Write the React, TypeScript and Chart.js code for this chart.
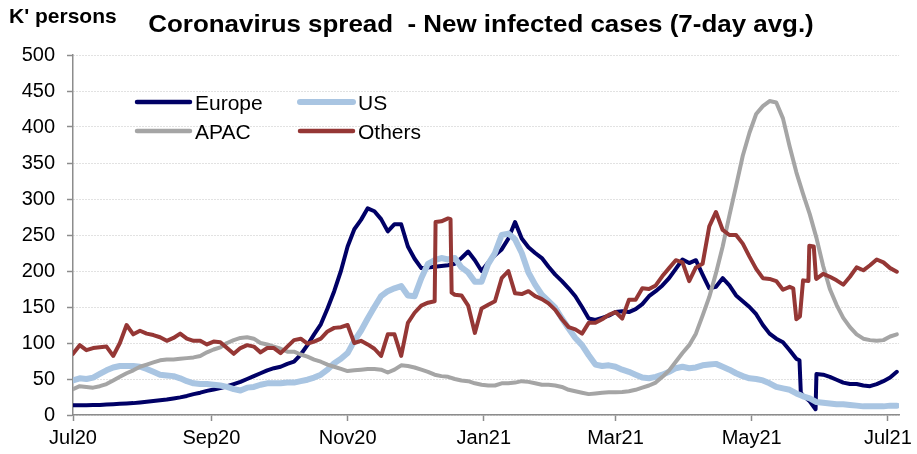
import React, { useEffect, useRef } from 'react';
import { Chart, registerables } from 'chart.js';

Chart.register(...registerables);

// Day offsets (since 1 Jul 2020) of the month ticks
const TICK_DAYS = [0, 62, 123, 184, 243, 304, 365];
const TICK_LABELS = ['Jul20', 'Sep20', 'Nov20', 'Jan21', 'Mar21', 'May21', 'Jul21'];

const SERIES_NAMES = ['Europe', 'US', 'APAC', 'Others'];

// 7-day avg new cases, K persons, one reading every 3 days from 1 Jul 2020
const EUROPE = [
  13.5, 13.5, 13.7, 14, 14, 14.5, 15, 15.5, 16, 16.5,
  17.5, 18.5, 19.5, 20.5, 21.5, 23, 24.5, 26.5, 29, 31,
  33.5, 35.5, 37.5, 40, 43, 46, 50, 54, 58, 62,
  65, 67, 71, 74, 84, 97, 112, 126, 148, 172,
  200, 234, 258, 271, 287, 283, 272, 255, 265, 265,
  234, 217, 204, 205, 206, 207, 208, 210, 218, 227,
  215, 200, 212, 222, 230, 245, 268, 245, 233, 225,
  218, 206, 195, 186, 176, 165, 150, 134, 132, 135,
  138, 143, 144, 143, 147, 154, 165, 172, 180, 190,
  203, 216, 211, 215, 195, 176, 178, 190, 180, 166,
  158, 150, 140, 125, 113, 106, 101, 90, 78, 27,
  19, 57, 56, 53, 49, 45, 43, 43, 41, 40,
  43, 47, 52, 60,
];
// extra readings around the sharp break in mid-May 2021
const EUROPE_EXTRA_DAYS = [325.4, 326, 332.6];
const EUROPE_EXTRA = [76, 31, 8];

const US = [
  48, 51, 50, 52, 57, 62, 66, 68, 68, 68,
  67, 64, 60, 56, 55, 54, 51, 47, 44, 43,
  43, 42, 41, 39, 36, 34, 38, 39, 42, 44,
  44, 44, 45, 45, 47, 49, 52, 56, 63, 72,
  78, 86, 103, 117, 134, 150, 165, 172, 176, 179,
  166, 165, 190, 210, 215, 218, 216, 218, 205, 198,
  185, 185, 210, 225, 250, 252, 244, 225, 198, 181,
  167, 158, 149, 134, 120, 107, 97, 83, 70, 68,
  69, 67, 63, 60, 56, 52, 51, 53, 56, 60,
  65, 67, 65, 66, 69, 70, 71, 67, 63, 58,
  54, 51, 50, 48, 44, 39, 37, 35, 30, 26,
  23, 18, 17, 16, 15, 15, 14, 13, 12, 12,
  12, 12, 13, 13,
];

const APAC = [
  36, 40, 39, 38, 40, 43, 48, 53, 58, 62,
  67, 70, 73, 76, 77, 77, 78, 79, 80, 82,
  87, 91, 94, 100, 104, 107, 108, 106, 100, 98,
  95, 92, 88, 88, 84, 81, 77, 74, 70, 67,
  64, 61, 62, 63, 64, 64, 63, 59, 63, 69,
  68, 66, 63, 60, 56, 54, 53, 50, 48, 47,
  44, 42, 41, 41, 44, 44, 45, 47, 46, 44,
  42, 42, 41, 39, 35, 33, 31, 29, 30, 31,
  31.5, 31.5, 32, 33, 35, 38, 41, 45, 53, 62,
  74, 86, 97, 113, 138, 164, 197, 234, 277, 318,
  360, 392, 418, 429, 436, 434, 412, 373, 337, 307,
  279, 246, 207, 175, 153, 135, 122, 112, 106, 104,
  103, 104, 109, 112,
];

const OTHERS = [
  85, 97, 90, 93, 94, 95, 82, 100, 125, 112,
  117, 113, 111, 108, 103, 107, 113, 106, 103, 103,
  98, 102, 101, 93, 85, 93, 97, 95, 87, 93,
  93, 86, 95, 104, 106, 99, 102, 106, 116, 121,
  122, 125, 100, 103, 98, 92, 82, 112, 112, 82,
  128, 142, 152, 156, 158, 269, 273, 167, 166, 152,
  114, 148, 153, 158, 190, 200, 169, 168, 172, 165,
  161, 155, 146, 133, 122, 119, 113, 128, 128, 133,
  139, 143, 134, 160, 160, 176, 175, 180, 193, 204,
  215, 212, 186, 205, 210, 262, 282, 257, 250, 250,
  238, 220, 203, 190, 189, 186, 174, 178, 133, 187,
  235, 189, 196, 192, 187, 181, 192, 205, 201, 208,
  216, 212, 204, 199,
];
// extra readings around the sharp steps
const OTHERS_EXTRA_DAYS = [162.4, 169.1, 169.6, 322.6, 325.6, 329.4, 329.8, 331.8, 332.8];
const OTHERS_EXTRA = [268, 272, 170, 176, 137, 186, 235, 234, 190];

const SAMPLE_STEP_DAYS = 3;

const COLORS = ['#000066', '#A9C5E2', '#A5A5A5', '#953735'];
const WIDTHS = [4, 6, 4, 4];
const FONT = '"Liberation Sans", Arial, sans-serif';

const toPoints = (vals: number[], extraDays: number[] = [], extraVals: number[] = []) =>
  [
    ...vals.map((v, i) => ({ x: i * SAMPLE_STEP_DAYS, y: v })),
    ...extraDays.map((d, k) => ({ x: d, y: extraVals[k] })),
  ].sort((a, b) => a.x - b.x);

const overlayPlugin = {
  id: 'overlayTexts',
  afterDraw(chart: any) {
    const ctx = chart.ctx;
    ctx.save();
    ctx.fillStyle = '#000';
    ctx.textBaseline = 'alphabetic';
    // axis unit
    ctx.font = `bold 21px ${FONT}`;
    ctx.textAlign = 'left';
    ctx.fillText("K' persons", 9, 23);
    // title
    ctx.save();
    ctx.font = `bold 24px ${FONT}`;
    ctx.textAlign = 'center';
    ctx.translate(481, 32);
    ctx.scale(1.08, 1);
    ctx.fillText('Coronavirus spread  - New infected cases (7-day avg.)', 0, 0);
    ctx.restore();
    // legend
    const items = [
      { i: 0, x: 137, y: 102 },
      { i: 1, x: 300, y: 102 },
      { i: 2, x: 137, y: 131 },
      { i: 3, x: 300, y: 131 },
    ];
    ctx.font = `21px ${FONT}`;
    ctx.textAlign = 'left';
    items.forEach((it) => {
      ctx.beginPath();
      ctx.strokeStyle = COLORS[it.i];
      ctx.lineWidth = it.i === 1 ? 6 : 4.5;
      ctx.lineCap = 'round';
      ctx.moveTo(it.x, it.y);
      ctx.lineTo(it.x + 53, it.y);
      ctx.stroke();
      ctx.fillStyle = '#000';
      ctx.fillText(SERIES_NAMES[it.i], it.x + 58, it.y + 7.5);
    });
    ctx.restore();
  },
};

export default function App() {
  const ref = useRef<HTMLCanvasElement | null>(null);
  useEffect(() => {
    if (!ref.current) return;
    const series = [
      toPoints(EUROPE, EUROPE_EXTRA_DAYS, EUROPE_EXTRA),
      toPoints(US),
      toPoints(APAC),
      toPoints(OTHERS, OTHERS_EXTRA_DAYS, OTHERS_EXTRA),
    ];
    const chart = new Chart(ref.current, {
      type: 'line',
      data: {
        datasets: series.map((pts, i) => ({
          label: SERIES_NAMES[i],
          data: pts,
          borderColor: COLORS[i],
          backgroundColor: COLORS[i],
          borderWidth: WIDTHS[i],
          pointRadius: 0,
          tension: 0,
          borderJoinStyle: 'round',
          borderCapStyle: 'round',
          order: 3 - i,
        })),
      },
      options: {
        animation: false,
        responsive: true,
        maintainAspectRatio: false,
        layout: { padding: { top: 55, right: 15, left: 0, bottom: 0 } },
        plugins: {
          legend: { display: false },
          title: { display: false },
          tooltip: { enabled: false },
        },
        scales: {
          x: {
            type: 'linear',
            min: 0,
            max: 370,
            afterBuildTicks: (scale: any) => {
              scale.ticks = TICK_DAYS.map((v) => ({ value: v }));
            },
            afterFit: (scale: any) => {
              scale.height = 39;
            },
            ticks: {
              autoSkip: false,
              maxRotation: 0,
              padding: 5,
              color: '#000',
              font: { family: FONT, size: 20 },
              callback: (value: any) => {
                const k = TICK_DAYS.indexOf(Number(value));
                return k >= 0 ? TICK_LABELS[k] : '';
              },
            },
            grid: {
              drawOnChartArea: false,
              drawTicks: true,
              tickLength: 6,
              tickColor: '#8c8c8c',
              tickWidth: 1.5,
            },
            border: { color: '#8c8c8c', width: 1.5 },
          },
          y: {
            min: 0,
            max: 500,
            afterFit: (scale: any) => {
              scale.width = 73;
            },
            ticks: {
              stepSize: 50,
              padding: 12,
              color: '#000',
              font: { family: FONT, size: 20 },
            },
            grid: {
              color: '#c4c4c4',
              lineWidth: 1,
              drawTicks: true,
              tickLength: 6,
              tickColor: '#8c8c8c',
              tickWidth: 1.5,
              tickBorderDash: [],
            },
            border: { color: '#8c8c8c', width: 1.5, dash: [1, 2] },
          },
        },
      },
      plugins: [overlayPlugin],
    } as any);
    return () => chart.destroy();
  }, []);
  return (
    <div style={{ position: 'fixed', left: 0, top: 0, width: 917, height: 454, background: '#fff' }}>
      <canvas ref={ref} />
    </div>
  );
}
